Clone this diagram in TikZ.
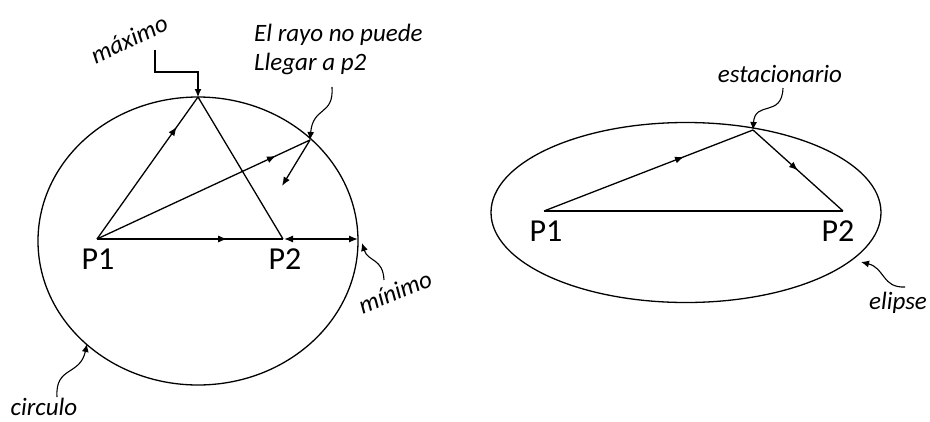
\documentclass[tikz,border=0pt]{standalone}
\usepackage{fontspec}
\setmainfont{Carlito}
\usetikzlibrary{arrows.meta,decorations.markings}
\begin{document}
\begin{tikzpicture}[x=1pt,y=-1pt,
  line/.style={line width=1.3pt,black},
  tip/.style={-{Latex[length=9pt,width=7pt]}},
  midarrow/.style={postaction={decorate,decoration={markings,
     mark=at position #1 with {\arrow{Latex[length=9pt,width=7pt]}}}}},
  callout/.style={line width=1.1pt,-{Latex[length=8pt,width=7pt]}},
  lbl/.style={font=\itshape\fontsize{25}{29}\selectfont,inner sep=0pt},
  pt/.style={font=\fontsize{32}{34}\selectfont,inner sep=0pt}]
\useasboundingbox (0,0) rectangle (930,421);
% ---------------- left diagram ----------------
\draw[line] (198,241) ellipse [x radius=160, y radius=144];
\coordinate (P1) at (97,239);
\coordinate (P2) at (283,239);
\coordinate (M) at (198,97);
\coordinate (R) at (310,140);
\coordinate (E) at (358,239);
\coordinate (Rin) at (282,186);
\draw[line,midarrow=0.79] (P1) -- (M);
\draw[line] (M) -- (P2);
\draw[line,midarrow=0.84] (P1) -- (R);
\draw[line,midarrow=0.7] (P1) -- (P2);
\draw[line,{Latex[length=9pt,width=7pt]}-{Latex[length=9pt,width=7pt]}] ([xshift=1pt]P2) -- (E);
\draw[line,tip] (R) -- (Rin);
\node[pt] (lP1) at (98,259) {P1};
\node[pt] (lP2) at (285,259) {P2};
% maximo callout
\node[lbl,rotate=25] (lmax) at (129,39) {máximo};
\coordinate (m0) at (155,50);
\draw[callout] (m0) -- (155,72) -- (198,72) -- (M);
% rayo callout
\node[lbl,align=left,anchor=north west] (lray) at (254,24) {El rayo no puede\\Llegar a p2};
\coordinate (r0) at (332,87);
\draw[callout] (r0) .. controls (334,116) and (313,106) .. (R);
% minimo callout
\node[lbl,rotate=22] (lmin) at (395,292) {mínimo};
\coordinate (n0) at (384,280);
\coordinate (nt) at (362,243);
\draw[callout] (n0) .. controls (383,258) and (368,262) .. (nt);
% circulo callout
\node[lbl] (lcir) at (44,407) {circulo};
\coordinate (c0) at (57,397);
\coordinate (ct) at (87,344);
\draw[callout] (c0) .. controls (55,366) and (80,376) .. (ct);
% ---------------- right diagram ----------------
\draw[line] (686,212.5) ellipse [x radius=195, y radius=90];
\coordinate (Q1) at (544,211);
\coordinate (Q2) at (843,211);
\coordinate (S) at (753,130);
\draw[line,midarrow=0.67] (Q1) -- (S);
\draw[line,midarrow=0.5] (S) -- (Q2);
\draw[line] (Q1) -- (Q2);
\node[pt] (lQ1) at (546,231) {P1};
\node[pt] (lQ2) at (838,231) {P2};
\node[lbl] (lest) at (780,74) {estacionario};
\coordinate (s0) at (783,88);
\draw[callout] (s0) .. controls (782,118) and (755,100) .. (S);
\node[lbl] (lel) at (898,303) {elipse};
\coordinate (e0) at (905,287);
\coordinate (et) at (861,262);
\draw[callout] (e0) .. controls (882,288) and (885,268) .. (et);
\end{tikzpicture}
\end{document}
